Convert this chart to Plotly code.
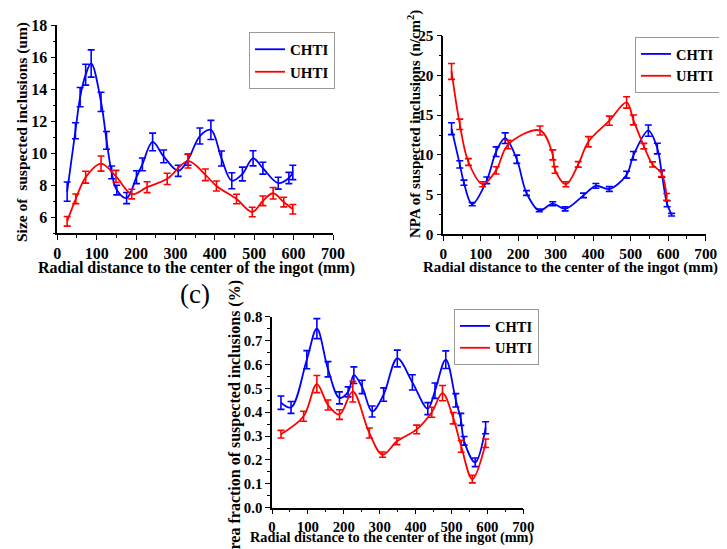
import plotly.graph_objects as go

# ---------------- Data ----------------
# Panel (a): size of suspected inclusions (um)
size_chti_x = [25, 46, 58, 72, 86, 111, 125, 138, 151, 176, 201, 216, 242, 270, 307, 332, 362, 390, 417, 443, 470, 497, 522, 561, 588, 598]
size_chti_y = [7.6, 11.4, 13.5, 14.9, 15.6, 13.2, 10.8, 8.8, 7.7, 7.2, 8.5, 9.3, 10.7, 9.8, 8.9, 9.6, 11.07, 11.45, 9.67, 8.28, 8.7, 9.68, 9.06, 8.13, 8.45, 8.8]
size_chti_e = [0.6, 0.5, 0.6, 0.65, 0.85, 0.6, 0.55, 0.4, 0.3, 0.35, 0.4, 0.4, 0.55, 0.4, 0.35, 0.35, 0.5, 0.6, 0.47, 0.5, 0.43, 0.47, 0.37, 0.37, 0.35, 0.45]
size_uhti_x = [25, 47, 72, 111, 149, 189, 228, 279, 332, 376, 404, 455, 495, 522, 548, 575, 598]
size_uhti_y = [5.75, 7.15, 8.5, 9.35, 8.55, 7.45, 7.88, 8.4, 9.5, 8.65, 7.95, 7.14, 6.33, 7.03, 7.5, 6.95, 6.5]
size_uhti_e = [0.3, 0.3, 0.37, 0.47, 0.38, 0.3, 0.34, 0.35, 0.42, 0.36, 0.31, 0.3, 0.3, 0.3, 0.36, 0.3, 0.3]

# Panel (b): NPA of suspected inclusions (n/cm2)
npa_chti_x = [22, 44, 55, 77, 116, 141, 165, 196, 222, 256, 292, 325, 374, 407, 443, 489, 507, 547, 571, 583, 597, 609]
npa_chti_y = [13.3, 8.8, 6.5, 3.8, 6.8, 10.4, 12.1, 9.45, 5.2, 3.0, 3.85, 3.2, 4.9, 6.1, 5.7, 7.5, 9.9, 13.05, 10.8, 7.6, 3.85, 2.47]
npa_chti_e = [0.75, 0.45, 0.32, 0.2, 0.42, 0.6, 0.67, 0.52, 0.3, 0.17, 0.25, 0.25, 0.28, 0.3, 0.3, 0.43, 0.53, 0.7, 0.67, 0.4, 0.38, 0.17]
npa_uhti_x = [22, 44, 67, 105, 141, 173, 258, 292, 298, 327, 360, 387, 443, 489, 507, 535, 558, 582, 596]
npa_uhti_y = [20.5, 13.85, 9.1, 6.3, 8.05, 11.3, 13.07, 10.0, 8.1, 6.3, 8.8, 11.65, 14.3, 16.6, 14.4, 11.1, 8.8, 7.7, 4.7]
npa_uhti_e = [1.0, 0.65, 0.42, 0.32, 0.46, 0.53, 0.57, 0.63, 0.42, 0.32, 0.35, 0.65, 0.58, 0.72, 0.62, 0.35, 0.32, 0.43, 0.43]

# Panel (c): area fraction of suspected inclusions (%)
af_chti_x = [25, 53, 97, 125, 156, 188, 212, 228, 251, 279, 311, 349, 391, 434, 454, 484, 512, 526, 535, 566, 595]
af_chti_y = [0.44, 0.42, 0.62, 0.75, 0.58, 0.46, 0.485, 0.555, 0.506, 0.403, 0.474, 0.625, 0.525, 0.415, 0.49, 0.62, 0.45, 0.37, 0.28, 0.19, 0.335]
af_chti_e = [0.028, 0.025, 0.038, 0.042, 0.032, 0.025, 0.021, 0.035, 0.028, 0.023, 0.028, 0.035, 0.032, 0.025, 0.032, 0.037, 0.028, 0.025, 0.018, 0.018, 0.025]
af_uhti_x = [25, 88, 125, 156, 188, 225, 271, 308, 348, 403, 445, 475, 505, 527, 558, 595]
af_uhti_y = [0.308, 0.383, 0.518, 0.43, 0.39, 0.486, 0.313, 0.222, 0.278, 0.328, 0.40, 0.48, 0.375, 0.257, 0.12, 0.27]
af_uhti_e = [0.016, 0.021, 0.036, 0.021, 0.02, 0.043, 0.021, 0.011, 0.014, 0.018, 0.021, 0.032, 0.024, 0.025, 0.016, 0.018]

series_names = ["CHTI", "UHTI"]
x_title = "Radial distance to the center of the ingot (mm)"
y_titles = ["Size of  suspected inclusions (um)",
            "NPA of suspected inclusions (n/cm<sup>2</sup>)",
            "Area fraction of suspected inclusions (%)"]

BLUE = "#0000ff"
RED = "#ff0000"
FONT = "Liberation Serif"
W, H = 727, 549
OFF = 8  # page body margin of the written html

fig = go.Figure()

def add(x, y, e, name, color, xa, ya, leg):
    fig.add_trace(go.Scatter(
        x=x, y=y, name=name, mode="lines",
        line=dict(color=color, width=1.8, shape="spline", smoothing=1.0),
        error_y=dict(type="data", array=e, visible=True, color=color, thickness=1.6, width=3.5),
        xaxis=xa, yaxis=ya, legend=leg, showlegend=True))

add(size_chti_x, size_chti_y, size_chti_e, series_names[0], BLUE, "x", "y", "legend")
add(size_uhti_x, size_uhti_y, size_uhti_e, series_names[1], RED, "x", "y", "legend")
add(npa_chti_x, npa_chti_y, npa_chti_e, series_names[0], BLUE, "x2", "y2", "legend2")
add(npa_uhti_x, npa_uhti_y, npa_uhti_e, series_names[1], RED, "x2", "y2", "legend2")
add(af_chti_x, af_chti_y, af_chti_e, series_names[0], BLUE, "x3", "y3", "legend3")
add(af_uhti_x, af_uhti_y, af_uhti_e, series_names[1], RED, "x3", "y3", "legend3")

def tf(size):
    return dict(family=FONT, size=size, color="black", weight="bold")

def xaxis(domain, anchor, fs):
    return dict(domain=domain, anchor=anchor, range=[0, 700], dtick=100, tick0=0,
                showline=True, linecolor="black", linewidth=1.5, mirror=False,
                ticks="outside", ticklen=5, tickwidth=1.3, tickcolor="black",
                minor=dict(ticks="outside", ticklen=3, dtick=50, tickcolor="black", tickwidth=1.2),
                showgrid=False, zeroline=False, tickfont=tf(fs), automargin=False)

def yaxis(domain, anchor, rng, dtick, mdtick, fs, fmt=None):
    d = dict(domain=domain, anchor=anchor, range=rng, dtick=dtick, tick0=0,
             showline=True, linecolor="black", linewidth=1.5, mirror=False,
             ticks="outside", ticklen=5, tickwidth=1.3, tickcolor="black",
             minor=dict(ticks="outside", ticklen=3, dtick=mdtick, tickcolor="black", tickwidth=1.2),
             showgrid=False, zeroline=False, tickfont=tf(fs), automargin=False)
    if fmt:
        d["tickformat"] = fmt
    return d

def px_x(p):
    return (p - OFF) / W

def px_y(p):
    return 1 - (p - OFF) / H

fig.update_layout(
    width=W, height=H, margin=dict(l=0, r=0, t=0, b=0, autoexpand=False),
    paper_bgcolor="white", plot_bgcolor="white",
    xaxis=xaxis([px_x(57.3), px_x(333)], "y", 16),
    yaxis=yaxis([px_y(233.3), px_y(25)], "x", [5, 18], 2, 1, 16),
    xaxis2=xaxis([px_x(443.3), px_x(705.7)], "y2", 15.3),
    yaxis2=yaxis([px_y(234.3), px_y(35.7)], "x2", [0, 25], 5, 2.5, 15.3),
    xaxis3=xaxis([px_x(272), px_x(523.3)], "y3", 14.8),
    yaxis3=yaxis([px_y(507.7), px_y(316.7)], "x3", [0, 0.8], 0.1, 0.05, 14.8, ".1f"),
)

def legend(xp, yp, fs):
    return dict(x=px_x(xp), y=px_y(yp), xanchor="left", yanchor="top",
                bordercolor="#999999", borderwidth=1, bgcolor="white",
                font=tf(fs), tracegroupgap=0, itemwidth=30)

fig.update_layout(legend=legend(249, 32, 15), legend2=legend(635, 37, 14.5), legend3=legend(454, 309, 14.5))

ann = [
    (196, 268, x_title, 0, 16),
    (570, 268, x_title, 0, 14.9),
    (392, 537, x_title, 0, 14.3),
    (22, 132, y_titles[0], -90, 15.5),
    (415, 124, y_titles[1], -90, 15.0),
    (235, 421, y_titles[2], -90, 16),
]
for xp, yp, t, ang, fs in ann:
    fig.add_annotation(x=px_x(xp), y=px_y(yp), xref="paper", yref="paper", text=t,
                       showarrow=False, textangle=ang, font=tf(fs),
                       xanchor="center", yanchor="middle")

fig.add_annotation(x=px_x(195), y=px_y(294), xref="paper", yref="paper", text="(c)",
                   showarrow=False, font=dict(family=FONT, size=27, color="black"),
                   xanchor="center", yanchor="middle")

fig.write_html("out.html")
